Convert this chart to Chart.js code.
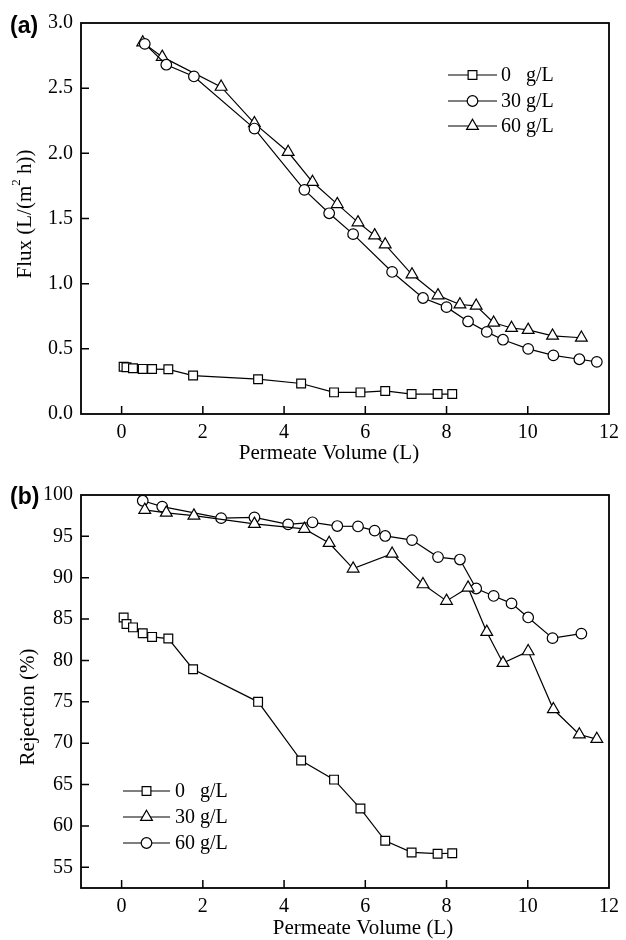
<!DOCTYPE html>
<html>
<head>
<meta charset="utf-8">
<script src="https://cdn.jsdelivr.net/npm/chart.js@4.4.0/dist/chart.umd.min.js"></script>
<style>
  html, body { margin: 0; padding: 0; background: #fff; }
  .panel { position: absolute; left: 0; width: 626px; height: 470px; }
  #panelA { top: 0; }
  #panelB { top: 470px; }
</style>
</head>
<body>
<div class="panel" id="panelA"><canvas id="fluxChart" width="626" height="470"></canvas></div>
<div class="panel" id="panelB"><canvas id="rejChart" width="626" height="470"></canvas></div>
<script>
// Permeate volume (L) at each sampling point, per feed concentration
const vol0  = [0.05, 0.12, 0.28, 0.52, 0.75, 1.15, 1.76, 3.36, 4.42, 5.23, 5.88, 6.49, 7.14, 7.78, 8.14];
const vol30 = [0.57, 1.10, 1.78, 3.27, 4.50, 5.11, 5.70, 6.66, 7.42, 8.00, 8.53, 8.99, 9.39, 10.01, 10.63, 11.27, 11.70];
const vol60 = [0.52, 1.00, 2.45, 3.27, 4.10, 4.70, 5.31, 5.82, 6.23, 6.49, 7.15, 7.79, 8.33, 8.73, 9.16, 9.60, 10.01, 10.61, 11.32];

// Flux, L/(m2 h)
const flux0  = [0.363, 0.358, 0.351, 0.346, 0.345, 0.343, 0.295, 0.267, 0.234, 0.166, 0.166, 0.177, 0.153, 0.153, 0.153];
const flux30 = [2.84, 2.68, 2.59, 2.19, 1.72, 1.54, 1.38, 1.09, 0.89, 0.82, 0.71, 0.63, 0.57, 0.50, 0.45, 0.42, 0.40];
const flux60 = [2.85, 2.74, 2.51, 2.23, 2.01, 1.78, 1.61, 1.47, 1.37, 1.30, 1.07, 0.91, 0.84, 0.83, 0.70, 0.66, 0.645, 0.60, 0.585];

// Rejection, %
const rej0  = [85.2, 84.4, 84.0, 83.3, 82.85, 82.65, 78.95, 75.0, 67.9, 65.6, 62.1, 58.2, 56.8, 56.65, 56.7];
const rej30 = [98.2, 97.85, 97.5, 96.5, 95.9, 94.2, 91.1, 92.9, 89.2, 87.2, 88.8, 83.45, 79.7, 81.1, 74.1, 71.05, 70.5];
const rej60 = [99.3, 98.6, 97.2, 97.3, 96.45, 96.7, 96.25, 96.2, 95.7, 95.05, 94.55, 92.5, 92.2, 88.7, 87.8, 86.9, 85.2, 82.7, 83.25];

// Legend labels and axis ticks
const seriesLabels = ['0   g/L', '30 g/L', '60 g/L'];
const xTicks = [0, 2, 4, 6, 8, 10, 12];
const fluxTicks = [0, 0.5, 1.0, 1.5, 2.0, 2.5, 3.0];
const rejTicks = [55, 60, 65, 70, 75, 80, 85, 90, 95, 100];

const SERIF = '"Liberation Serif", "Times New Roman", serif';
const SANS_BOLD = 'bold 23px "Liberation Sans", Arial, sans-serif';
const MARK = { rect: 6.2, circle: 5.3, triangle: 6.8 };

function series(label, xs, ys, style) {
  return {
    label,
    data: xs.map((x, i) => ({ x, y: ys[i] })),
    borderColor: '#000',
    borderWidth: 1.2,
    pointStyle: style,
    pointRadius: MARK[style],
    pointHoverRadius: MARK[style],
    pointBackgroundColor: '#fff',
    pointBorderColor: '#000',
    pointBorderWidth: 1.2,
    fill: false,
    tension: 0
  };
}

// Draws text rotated by -90deg, with optional superscript parts
function drawVerticalTitle(ctx, parts, cx, cy) {
  const base = `21px ${SERIF}`;
  const sup = `13px ${SERIF}`;
  let total = 0;
  parts.forEach(p => { ctx.font = p.sup ? sup : base; total += ctx.measureText(p.t).width; });
  ctx.save();
  ctx.translate(cx, cy);
  ctx.rotate(-Math.PI / 2);
  ctx.textBaseline = 'middle';
  ctx.textAlign = 'left';
  let x = -total / 2;
  parts.forEach(p => {
    ctx.font = p.sup ? sup : base;
    ctx.fillText(p.t, x, p.sup ? -8 : 0);
    x += ctx.measureText(p.t).width;
  });
  ctx.restore();
}

function decorPlugin(cfg) {
  return {
    id: 'decor',
    afterDraw(chart) {
      const { ctx, chartArea: a } = chart;
      const xs = chart.scales.x, ys = chart.scales.y;
      ctx.save();
      ctx.fillStyle = '#000';
      ctx.strokeStyle = '#000';
      // frame
      ctx.lineWidth = 1.8;
      ctx.strokeRect(a.left, a.top, a.right - a.left, a.bottom - a.top);
      // inward tick marks
      ctx.lineWidth = 1.5;
      ctx.beginPath();
      xTicks.forEach(v => {
        const px = xs.getPixelForValue(v);
        if (px < a.right - 2) { ctx.moveTo(px, a.bottom); ctx.lineTo(px, a.bottom - 8); }
      });
      cfg.yTicks.forEach(v => {
        const py = ys.getPixelForValue(v);
        if (py > a.top + 2 && py < a.bottom - 2) { ctx.moveTo(a.left, py); ctx.lineTo(a.left + 8, py); }
      });
      ctx.stroke();
      // x title
      ctx.font = `21px ${SERIF}`;
      ctx.textAlign = 'center';
      ctx.textBaseline = 'middle';
      ctx.fillText('Permeate Volume (L)', cfg.xTitle[0], cfg.xTitle[1]);
      // y title
      drawVerticalTitle(ctx, cfg.yTitleParts, cfg.yTitle[0], cfg.yTitle[1]);
      // panel label
      ctx.font = SANS_BOLD;
      ctx.textAlign = 'left';
      ctx.textBaseline = 'middle';
      ctx.fillText(cfg.panel, cfg.panelPos[0], cfg.panelPos[1]);
      // legend: line with marker in the middle, then label
      const L = cfg.legend;
      chart.data.datasets.forEach((ds, i) => {
        const yy = L.rows[i];
        ctx.lineWidth = 1.2;
        ctx.beginPath();
        ctx.moveTo(L.x0, yy);
        ctx.lineTo(L.x1, yy);
        ctx.stroke();
        ctx.fillStyle = '#fff';
        ctx.strokeStyle = '#000';
        Chart.helpers.drawPoint(ctx, { pointStyle: ds.pointStyle, radius: ds.pointRadius, borderWidth: 1.2, rotation: 0 }, (L.x0 + L.x1) / 2, yy);
        ctx.fillStyle = '#000';
        ctx.font = `20px ${SERIF}`;
        ctx.textAlign = 'left';
        ctx.textBaseline = 'middle';
        ctx.fillText(ds.label, L.tx, yy + 1);
      });
      ctx.restore();
    }
  };
}

function makeChart(id, cfg) {
  return new Chart(document.getElementById(id), {
    type: 'line',
    data: { datasets: cfg.datasets },
    options: {
      responsive: false,
      animation: false,
      events: [],
      layout: { padding: { left: 0, top: cfg.area.top, right: 626 - cfg.area.right, bottom: 0 } },
      plugins: { legend: { display: false }, tooltip: { enabled: false } },
      scales: {
        x: {
          type: 'linear',
          min: -1, max: 12,
          afterBuildTicks: s => { s.ticks = xTicks.map(v => ({ value: v })); },
          afterFit: s => { s.height = 470 - cfg.area.bottom; },
          grid: { display: false, drawTicks: false },
          border: { display: false },
          ticks: { color: '#000', font: { family: SERIF, size: 20 }, padding: cfg.xPad, maxRotation: 0, autoSkip: false }
        },
        y: {
          type: 'linear',
          min: cfg.yMin, max: cfg.yMax,
          afterBuildTicks: s => { s.ticks = cfg.yTicks.map(v => ({ value: v })); },
          afterFit: s => { s.width = cfg.area.left; },
          grid: { display: false, drawTicks: false },
          border: { display: false },
          ticks: { color: '#000', font: { family: SERIF, size: 20 }, padding: 8, autoSkip: false, callback: cfg.yFmt }
        }
      }
    },
    plugins: [decorPlugin(cfg)]
  });
}

// (a) flux
makeChart('fluxChart', {
  datasets: [
    series(seriesLabels[0], vol0, flux0, 'rect'),
    series(seriesLabels[1], vol30, flux30, 'circle'),
    series(seriesLabels[2], vol60, flux60, 'triangle')
  ],
  area: { left: 81, top: 23, right: 615, bottom: 414 },
  yMin: 0, yMax: 3, yTicks: fluxTicks,
  yFmt: v => Number(v).toFixed(1),
  xPad: 7,
  xTitle: [329, 453],
  yTitle: [25, 214],
  yTitleParts: [{ t: 'Flux (L/(m' }, { t: '2', sup: true }, { t: ' h))' }],
  panel: '(a)', panelPos: [10, 27],
  legend: { x0: 448, x1: 497, tx: 501, rows: [75, 101, 126] }
});

// (b) rejection
makeChart('rejChart', {
  datasets: [
    series(seriesLabels[0], vol0, rej0, 'rect'),
    series(seriesLabels[1], vol30, rej30, 'triangle'),
    series(seriesLabels[2], vol60, rej60, 'circle')
  ],
  area: { left: 81, top: 25, right: 616, bottom: 418 },
  yMin: 52.5, yMax: 100, yTicks: rejTicks,
  yFmt: v => String(v),
  xPad: 7,
  xTitle: [363, 458],
  yTitle: [28, 237],
  yTitleParts: [{ t: 'Rejection (%)' }],
  panel: '(b)', panelPos: [10, 28],
  legend: { x0: 123, x1: 170, tx: 175, rows: [321, 347, 373] }
});
</script>
</body>
</html>
